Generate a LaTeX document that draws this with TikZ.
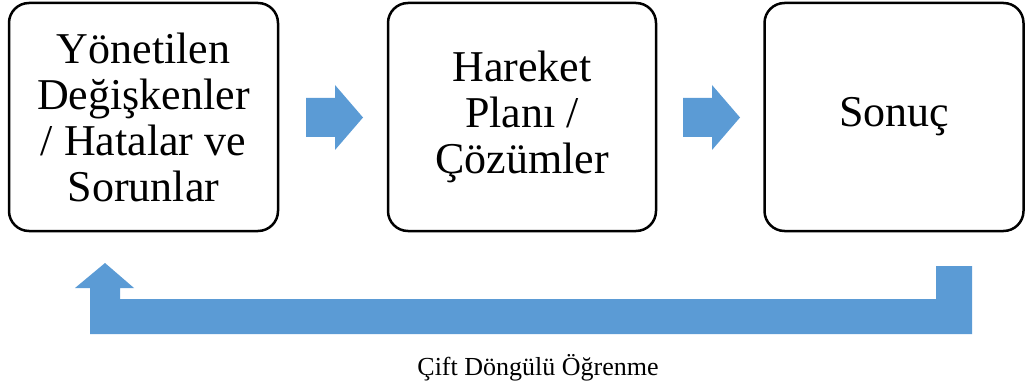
\documentclass[tikz,border=0pt]{standalone}
\usepackage{fontspec}
\setmainfont{Liberation Serif}
\definecolor{flowblue}{HTML}{5B9BD5}
\tikzset{
  stepbox/.style={draw=black, line width=2.5pt, rounded corners=20pt, fill=white,
    minimum height=228pt, align=center, inner sep=0pt,
    font=\fontsize{44}{46}\selectfont},
  bluearrow/.style={fill=flowblue, draw=none}
}
\begin{document}
\begin{tikzpicture}[x=1pt, y=-1pt]
\useasboundingbox (0,0) rectangle (1027,390);
\node[stepbox, minimum width=269pt] (b1) at (143.5,117) {Yönetilen\\Değişkenler\\/ Hatalar ve\\Sorunlar};
\node[stepbox, minimum width=268pt] (b2) at (522,117) {Hareket\\Planı /\\Çözümler};
\node[stepbox, minimum width=259pt] (b3) at (894,117) {Sonuç};
% right arrows
\foreach \dx in {0,377}{
  \fill[bluearrow] (306+\dx,98) -- (335+\dx,98) -- (335+\dx,85) -- (363+\dx,117.5)
    -- (335+\dx,150) -- (335+\dx,137) -- (306+\dx,137) -- cycle;
}
% feedback arrow
\fill[bluearrow] (936,266) -- (972,266) -- (972,334) -- (90,334) -- (90,288) -- (75,288)
  -- (105,263) -- (134,288) -- (120,288) -- (120,299) -- (936,299) -- cycle;
\node[font=\fontsize{26}{30}\selectfont, anchor=base] (lbl) at (538,375) {Çift Döngülü Öğrenme};
\end{tikzpicture}
\end{document}
